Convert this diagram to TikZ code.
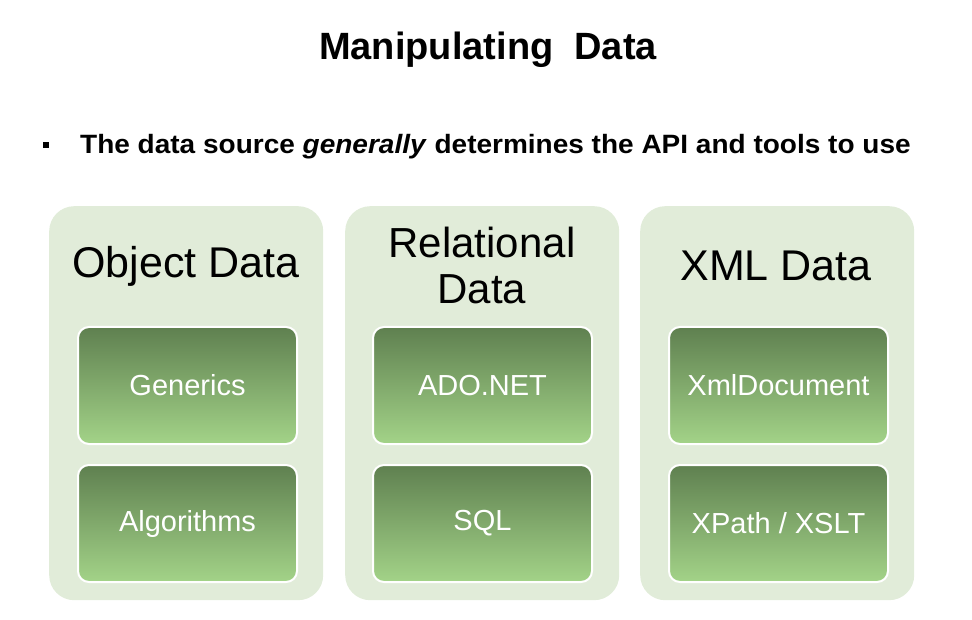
\documentclass[tikz,border=0pt]{standalone}
\usepackage{fontspec}
\setmainfont{Liberation Sans}
\usetikzlibrary{positioning}
\definecolor{outerfill}{HTML}{E1ECD9}
\definecolor{innertop}{HTML}{5F8050}
\definecolor{innerbot}{HTML}{A3D388}
\tikzset{
  outerbox/.style={fill=outerfill, draw=none, rounded corners=25pt, minimum width=274pt, minimum height=394pt, anchor=north west, inner sep=0pt},
  innerbox/.style={top color=innertop, bottom color=innerbot, draw=white, line width=2pt, rounded corners=11pt, minimum width=219pt, minimum height=117pt, anchor=north west, inner sep=0pt, text=white, font=\fontsize{29}{32}\selectfont},
  coltitle/.style={font=\fontsize{43}{46}\selectfont, align=center, text=black},
}
\begin{document}
\begin{tikzpicture}[x=1pt,y=-1pt]
\useasboundingbox (0,0) rectangle (972,620);
\node[font=\bfseries\fontsize{38}{42}\selectfont] (title) at (488,50) {Manipulating\ \ Data};
\node[fill=black, minimum size=6pt, inner sep=0pt] (bul) at (46,145) {};
\node[anchor=west, font=\bfseries\fontsize{25}{28}\selectfont, inner sep=0pt] (sub) at (80,147) {\scalebox{1.12}[1.06]{The data source \textit{generally} determines the API and tools to use}};
% columns
\node[outerbox] (c1) at (49,206) {};
\node[outerbox] (c2) at (345,206) {};
\node[outerbox] (c3) at (640,206) {};
\node[coltitle] (t1) at (186,266) {Object Data};
\node[coltitle, font=\fontsize{42}{46}\selectfont] (t2) at (482,265) {Relational\\Data};
\node[coltitle] (t3) at (776,266) {XML Data};
\node[innerbox] (g) at (77,326) {Generics};
\node[innerbox] (a) at (77,464) {Algorithms};
\node[innerbox] (ado) at (372,326) {ADO.NET};
\node[innerbox] (sql) at (372,464) {SQL};
\node[innerbox] (xd) at (668,326) {XmlDocument};
\node[innerbox] (xp) at (668,464) {XPath / XSLT};
\end{tikzpicture}
\end{document}
